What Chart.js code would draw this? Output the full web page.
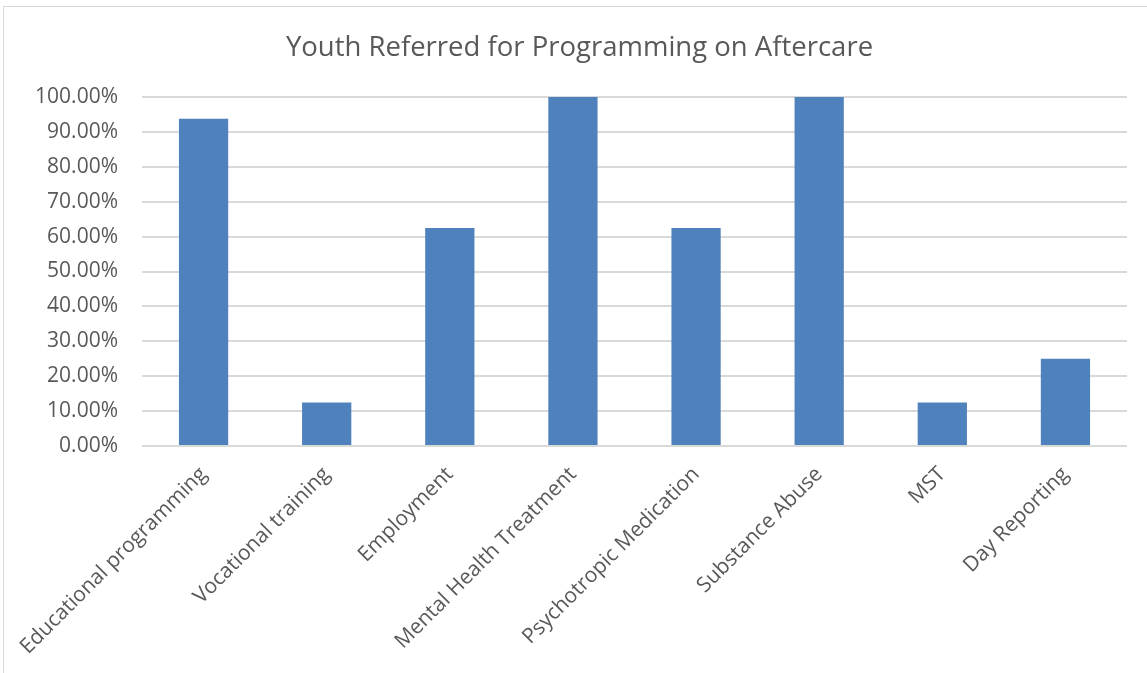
<!DOCTYPE html>
<html>
<head>
<meta charset="utf-8">
<script src="https://cdn.jsdelivr.net/npm/chart.js@4"></script>
<style>
  html, body { margin: 0; padding: 0; background: #fff; }
  #wrap { position: relative; width: 1147px; height: 673px; overflow: hidden; }
  #frame { position: absolute; left: 3px; top: 6px; width: 1200px; height: 700px; border: 1px solid #d9d9d9; }
  canvas { position: absolute; left: 0; top: 0; }
</style>
</head>
<body>
<div id="wrap">
  <div id="frame"></div>
  <canvas id="youthChart" width="1147" height="673"></canvas>
</div>
<script>
const categories = ['Educational programming', 'Vocational training', 'Employment', 'Mental Health Treatment',
    'Psychotropic Medication', 'Substance Abuse', 'MST', 'Day Reporting'];
const referredShare = [0.9375, 0.125, 0.625, 1.0, 0.625, 1.0, 0.125, 0.25];
const yTicks = [0, 0.1, 0.2, 0.3, 0.4, 0.5, 0.6, 0.7, 0.8, 0.9, 1.0];

const textColor = '#595959';
const fontFamily = '"Open Sans", "Noto Sans", sans-serif';

const ctx = document.getElementById('youthChart').getContext('2d');
const youthChart = new Chart(ctx, {
    type: 'bar',
    data: {
        labels: categories,
        datasets: [{
            label: 'Youth Referred',
            data: referredShare,
            backgroundColor: '#4f81bd',
            borderWidth: 0,
            categoryPercentage: 1,
            barPercentage: 0.4
        }]
    },
    options: {
        responsive: false,
        animation: false,
        layout: { padding: { left: 32, right: 20, top: 0, bottom: 0 } },
        plugins: {
            legend: { display: false },
            tooltip: { enabled: false },
            title: {
                display: true,
                text: 'Youth Referred for Programming on Aftercare',
                color: textColor,
                font: { family: fontFamily, size: 27.5, weight: 'normal' },
                padding: { top: 32, bottom: 32 }
            }
        },
        scales: {
            x: {
                grid: { display: false },
                border: { display: false },
                ticks: {
                    color: textColor,
                    font: { family: fontFamily, size: 21 },
                    minRotation: 45,
                    maxRotation: 45,
                    autoSkip: false,
                    padding: 8
                },
                afterFit: scale => {
                    scale.height = 227;
                    scale.paddingLeft = 0;
                    scale.paddingRight = 0;
                }
            },
            y: {
                min: 0,
                max: 1,
                afterBuildTicks: scale => {
                    scale.ticks = yTicks.map(v => ({ value: v }));
                },
                grid: { color: '#d9d9d9', lineWidth: 2, drawTicks: false },
                border: { display: false },
                ticks: {
                    color: textColor,
                    font: { family: fontFamily, size: 21 },
                    padding: 24,
                    callback: v => (v * 100).toFixed(2) + '%'
                },
                afterFit: scale => {
                    scale.width = 110;
                    scale.paddingTop = 0;
                    scale.paddingBottom = 0;
                }
            }
        }
    }
});
</script>
</body>
</html>
